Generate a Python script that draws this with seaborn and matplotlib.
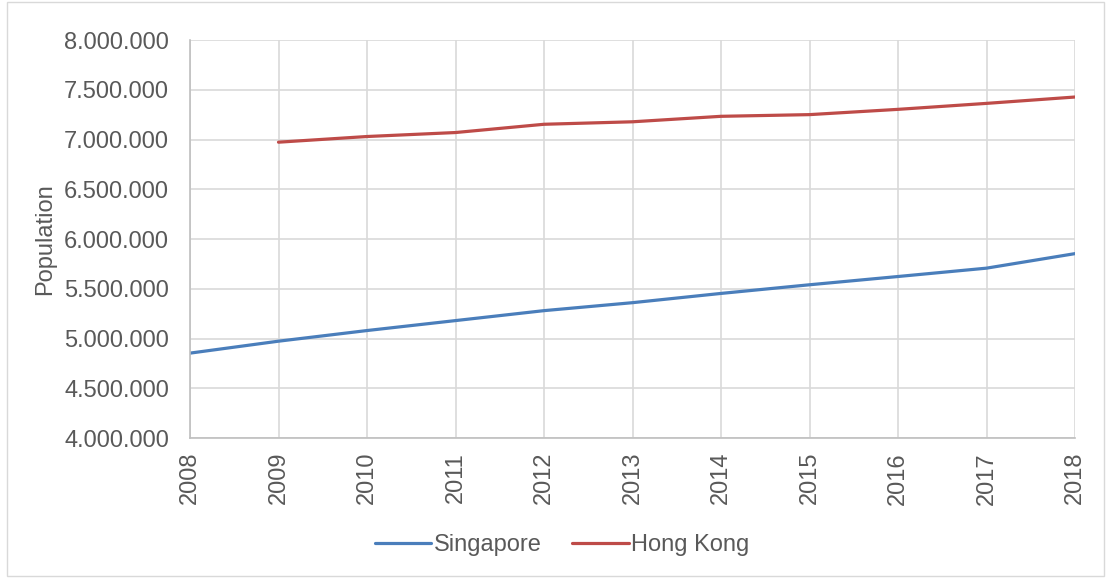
import numpy as np
import pandas as pd
import matplotlib
matplotlib.use("Agg")
import matplotlib.pyplot as plt
import matplotlib.ticker as mticker
from matplotlib.patches import Rectangle
import seaborn as sns

## Data
years = [2008, 2009, 2010, 2011, 2012, 2013, 2014, 2015, 2016, 2017, 2018]
singapore = [4853000, 4973000, 5080000, 5180000, 5280000, 5360000,
             5453000, 5540000, 5623000, 5707000, 5853000]
hong_kong = [np.nan, 6973000, 7030000, 7070000, 7153000, 7178000,
             7233000, 7250000, 7303000, 7363000, 7427000]
series_names = ["Singapore", "Hong Kong"]
series_colors = ["#4a7ebb", "#be4b48"]

df = pd.DataFrame({"Year": years, "Singapore": singapore, "Hong Kong": hong_kong})
long_df = df.melt(id_vars="Year", var_name="Country", value_name="Population").dropna()

## Style
sns.set_style("white")
plt.rcParams["font.family"] = ["Liberation Sans", "DejaVu Sans"]
FS = 17

fig = plt.figure(figsize=(11.08, 5.78), dpi=100)
ax = fig.add_axes([190 / 1108, 1 - 438 / 578, (1075 - 190) / 1108, (438 - 40) / 578])

sns.lineplot(data=long_df, x="Year", y="Population", hue="Country",
             hue_order=series_names, palette=series_colors,
             linewidth=2.3, ax=ax)

ax.set_xlim(years[0], years[-1])
ax.set_ylim(4000000, 8000000)
ax.set_xticks(years)
ax.set_xticklabels([str(y) for y in years], rotation=90)
ax.yaxis.set_major_locator(mticker.MultipleLocator(500000))
ax.yaxis.set_major_formatter(mticker.FuncFormatter(lambda v, p: f"{int(v):,}".replace(",", ".")))

ax.grid(True, color="#d9d9d9", linewidth=1.2)
ax.set_axisbelow(True)
for s in ["top", "right"]:
    ax.spines[s].set_visible(False)
for s in ["left", "bottom"]:
    ax.spines[s].set_color("#bfbfbf")
    ax.spines[s].set_linewidth(1.2)

ax.tick_params(axis="y", length=0, labelsize=FS, labelcolor="#595959", pad=15)
ax.tick_params(axis="x", length=0, labelsize=FS, labelcolor="#595959", pad=10)
ax.set_xlabel("")
ax.set_ylabel("Population", fontsize=FS, color="#595959", labelpad=6)

handles, labels = ax.get_legend_handles_labels()
ax.legend(handles, labels, loc="center", bbox_to_anchor=(562 / 1108, 1 - 545 / 578),
          bbox_transform=fig.transFigure, ncol=2, frameon=False,
          fontsize=FS, labelcolor="#595959", handlelength=2.4,
          handletextpad=0.1, columnspacing=1.3)

# light chart-area border
fig.patches.append(Rectangle((0.006, 0.004), 0.99, 0.992, transform=fig.transFigure,
                             fill=False, edgecolor="#d9d9d9", linewidth=1))

fig.savefig("out.png", dpi=100)
